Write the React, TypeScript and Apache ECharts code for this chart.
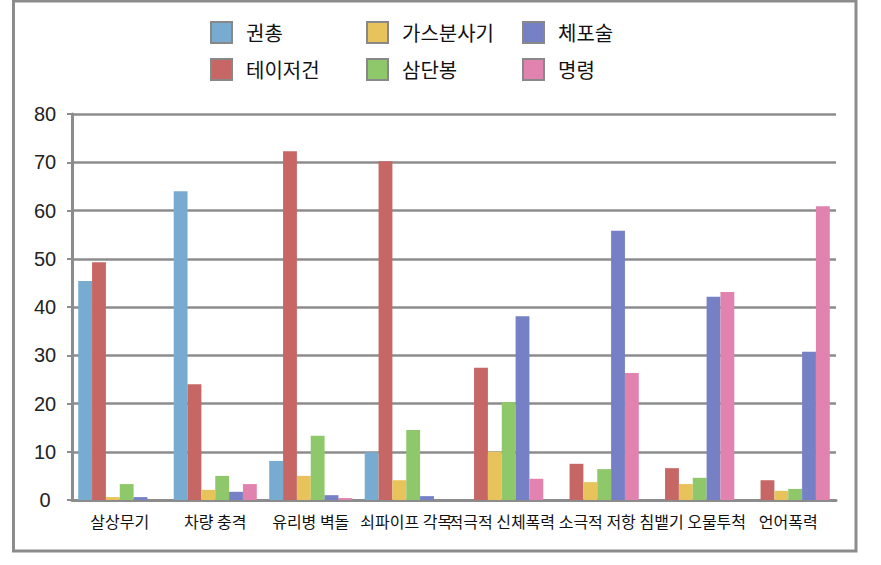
import React, { useEffect, useRef } from "react";
import * as echarts from "echarts";

const categories = [
  "살상무기",
  "차량 충격",
  "유리병 벽돌",
  "쇠파이프 각목",
  "적극적 신체폭력",
  "소극적 저항",
  "침뱉기 오물투척",
  "언어폭력",
];

const seriesNames = ["권총", "테이저건", "가스분사기", "삼단봉", "체포술", "명령"];

const gun = [45.4, 64.0, 8.1, 9.9, 0, 0, 0, 0];
const taser = [49.3, 24.0, 72.3, 70.2, 27.4, 7.5, 6.6, 4.1];
const gasSpray = [0.6, 2.1, 5.0, 4.1, 10.0, 3.7, 3.3, 1.9];
const baton = [3.3, 5.0, 13.3, 14.5, 20.3, 6.4, 4.6, 2.3];
const arrest = [0.6, 1.7, 1.0, 0.8, 38.1, 55.8, 42.1, 30.7];
const command = [0, 3.3, 0.4, 0, 4.4, 26.3, 43.1, 60.9];

const seriesValues = [gun, taser, gasSpray, baton, arrest, command];
const colors = ["#77ACD0", "#C66766", "#E8C25A", "#8FC86B", "#7680C5", "#E183AE"];

const yTicks = { min: 0, max: 80, interval: 10 };

export default function App() {
  const ref = useRef<HTMLDivElement>(null);

  useEffect(() => {
    if (!ref.current) return;
    const chart = echarts.init(ref.current, undefined, { renderer: "svg" });
    const font = "'Noto Sans CJK KR', 'Noto Sans', sans-serif";
    const legendCommon = {
      orient: "vertical" as const,
      itemWidth: 21,
      itemHeight: 21,
      itemGap: 14,
      icon: "rect",
      selectedMode: false,
      padding: 0,
      textStyle: {
        fontSize: 20,
        lineHeight: 21,
        color: "#111",
        fontFamily: font,
        padding: [0, 0, 0, 9],
      },
      itemStyle: { borderColor: "#888", borderWidth: 2 },
    };
    chart.setOption({
      animation: false,
      color: colors,
      textStyle: { fontFamily: font },
      legend: [
        { ...legendCommon, left: 210, top: 21, data: [seriesNames[0], seriesNames[1]] },
        { ...legendCommon, left: 366, top: 21, data: [seriesNames[2], seriesNames[3]] },
        { ...legendCommon, left: 522, top: 21, data: [seriesNames[4], seriesNames[5]] },
      ],
      graphic: [
        {
          type: "rect",
          shape: { x: 13.5, y: 1, width: 842.5, height: 550 },
          style: { fill: "none", stroke: "#8C8C8C", lineWidth: 3 },
          z: -1,
        },
      ],
      grid: { left: 72, top: 114, width: 764, height: 386, containLabel: false },
      xAxis: {
        type: "category",
        data: categories,
        axisLine: { lineStyle: { color: "#8C8C8C", width: 3 } },
        axisTick: { show: false },
        axisLabel: {
          interval: 0,
          color: "#111",
          fontSize: 16,
          fontFamily: font,
          margin: 13,
          hideOverlap: false,
        },
      },
      yAxis: {
        type: "value",
        min: yTicks.min,
        max: yTicks.max,
        interval: yTicks.interval,
        axisLine: { show: true, lineStyle: { color: "#8C8C8C", width: 3 } },
        axisTick: { show: true, length: 5, lineStyle: { color: "#8C8C8C", width: 2 } },
        splitLine: { lineStyle: { color: "#8C8C8C", width: 2.5 } },
        axisLabel: {
          color: "#222",
          fontSize: 20,
          fontFamily: "'Liberation Sans', Arial, sans-serif",
          align: "center",
          margin: 27,
        },
      },
      series: seriesNames.map((name, i) => ({
        name,
        type: "bar",
        data: seriesValues[i],
        barGap: "0%",
        barCategoryGap: "13%",
        itemStyle: { color: colors[i] },
      })),
    });
    return () => chart.dispose();
  }, []);

  return (
    <div
      ref={ref}
      style={{ position: "absolute", left: 0, top: 0, width: 881, height: 565, background: "#fff" }}
    />
  );
}
